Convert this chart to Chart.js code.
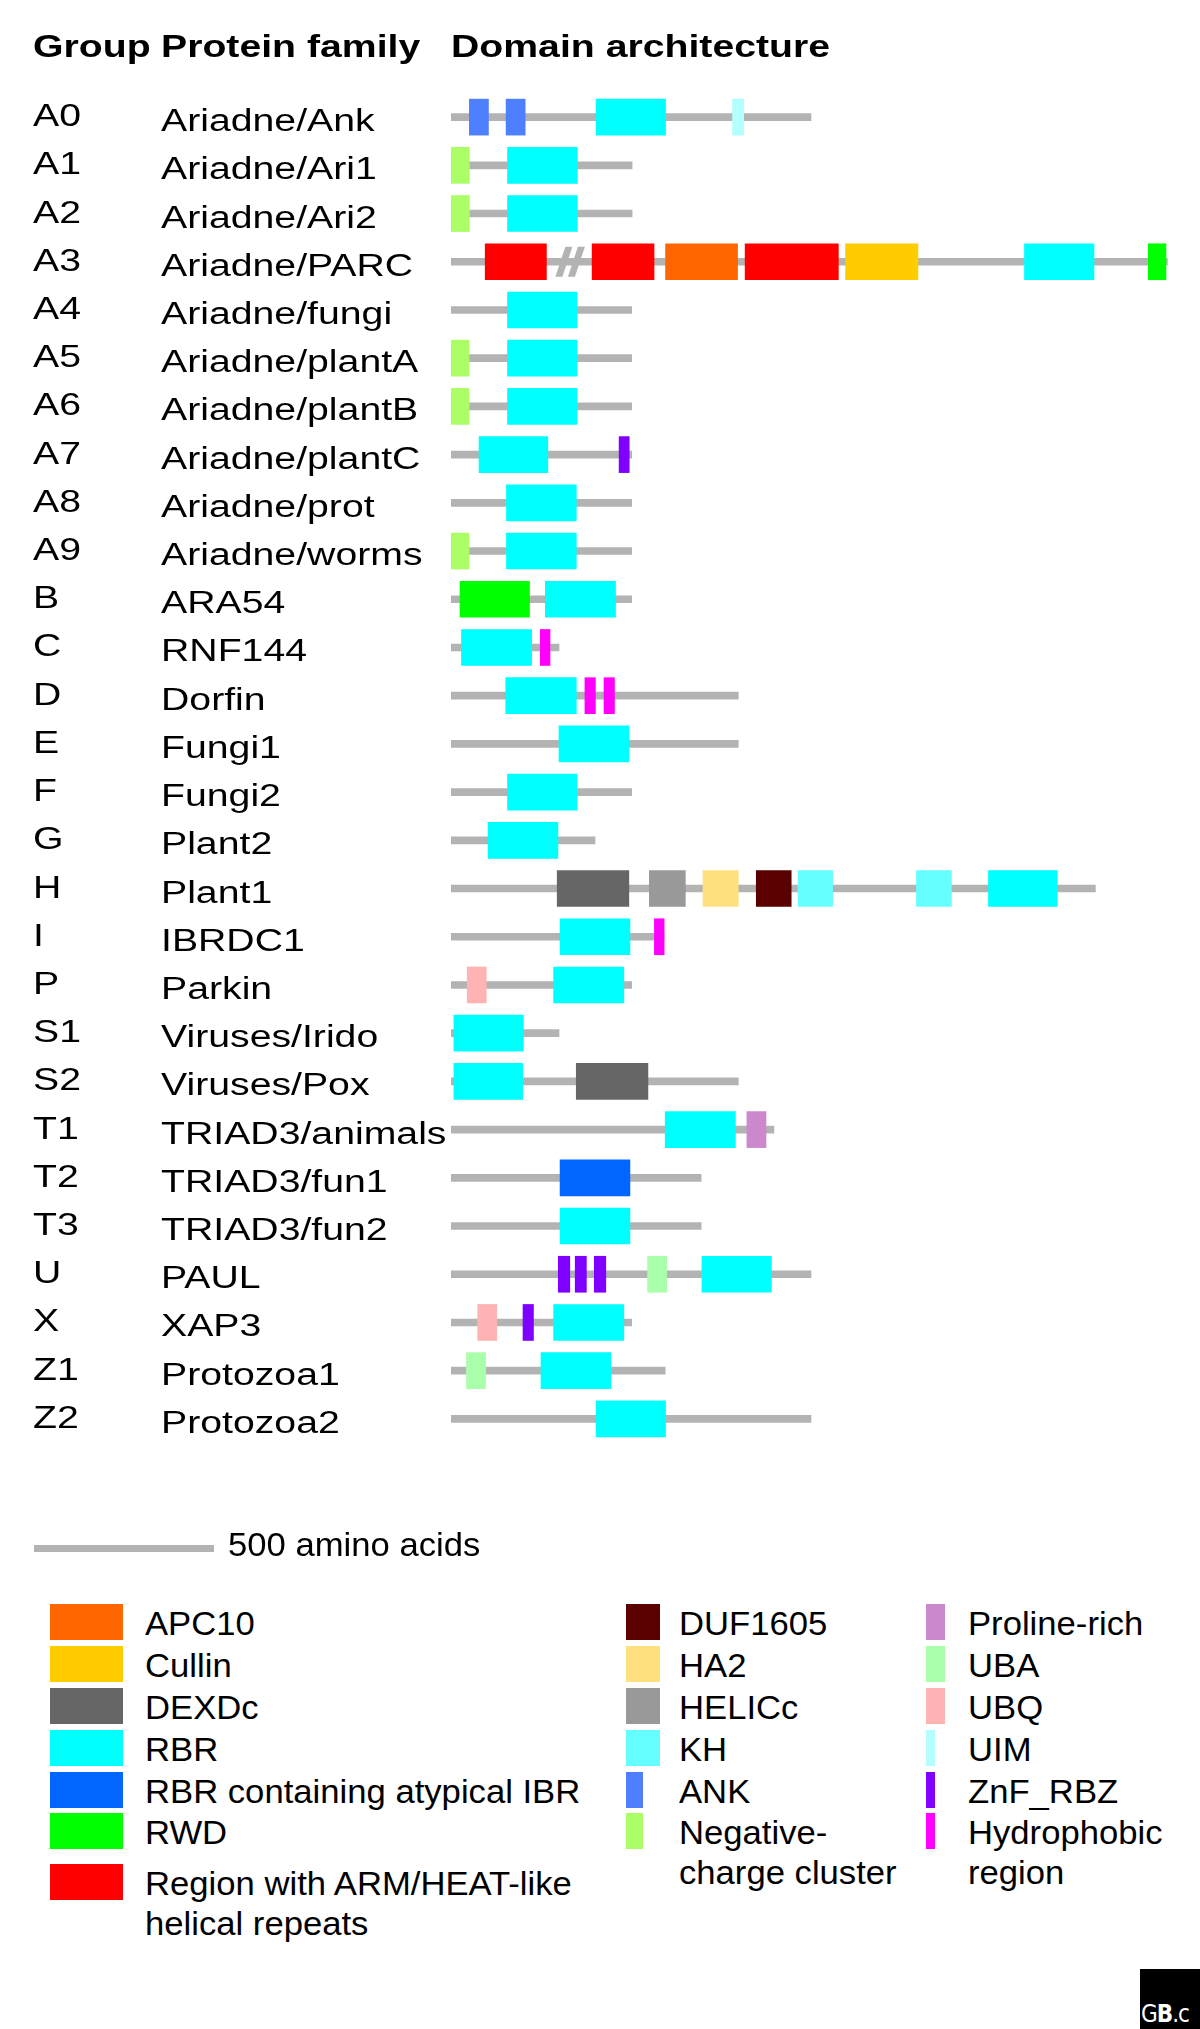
<!DOCTYPE html>
<html>
<head>
<meta charset="utf-8">
<script src="https://cdn.jsdelivr.net/npm/chart.js@4.4.1/dist/chart.umd.min.js"></script>
<style>
  body { margin: 0; background: #fff; font-family: "Liberation Sans", Arial, sans-serif; }
  #wrap { position: relative; width: 1200px; height: 2029px; overflow: hidden; }
  #domains { position: absolute; left: 0; top: 0; }
  .sw { position: absolute; height: 36px; }
  .lt { position: absolute; font-size: 33px; line-height: 40px; white-space: nowrap; color: #000;
        transform: scaleX(1.05); transform-origin: 0 0; }
  #gb { position: absolute; left: 1140px; top: 1969px; width: 60px; height: 60px; background: #000;
        overflow: hidden; color: #fff; font: 24px "DejaVu Sans Condensed", "DejaVu Sans", sans-serif; }
  #gb span { position: absolute; left: 1px; top: 31px; white-space: nowrap; letter-spacing: -1px; }
  #gb b { font-weight: bold; }
</style>
</head>
<body>
<div id="wrap">
  <canvas id="domains" width="1200" height="1580"></canvas>
  <div id="legend"></div>
  <div id="gb"><span>G<b>B</b>.c</span></div>
</div>
<script>
// rows
const groups = ['A0','A1','A2','A3','A4','A5','A6','A7','A8','A9','B','C','D','E','F','G','H','I','P','S1','S2','T1','T2','T3','U','X','Z1','Z2'];
const families = ['Ariadne/Ank','Ariadne/Ari1','Ariadne/Ari2','Ariadne/PARC','Ariadne/fungi','Ariadne/plantA','Ariadne/plantB',
  'Ariadne/plantC','Ariadne/prot','Ariadne/worms','ARA54','RNF144','Dorfin','Fungi1','Fungi2','Plant2','Plant1','IBRDC1',
  'Parkin','Viruses/Irido','Viruses/Pox','TRIAD3/animals','TRIAD3/fun1','TRIAD3/fun2','PAUL','XAP3','Protozoa1','Protozoa2'];
// protein length in amino acids
const lengths = [1000, 503, 503, 1990, 502, 502, 502, 502, 502, 502, 502, 300, 798, 798, 502, 400, 1790, 592,
  502, 300, 798, 897, 695, 695, 1000, 502, 595, 1000];

// domain types and colours
const domainTypes = ['APC10','Cullin','DEXDc','RBR','RBR containing atypical IBR','RWD','ARM/HEAT',
  'DUF1605','HA2','HELICc','KH','ANK','Negative-charge cluster',
  'Proline-rich','UBA','UBQ','UIM','ZnF_RBZ','Hydrophobic region'];
const domainColors = ['#ff6600','#ffcc00','#666666','#00ffff','#0066ff','#00ff00','#ff0000',
  '#5a0000','#ffe07f','#999999','#66ffff','#4d7fff','#aaff66',
  '#cc88cc','#aaffaa','#ffb3b3','#b3ffff','#7f00ff','#ff00ff'];
const legendLabels = ['APC10','Cullin','DEXDc','RBR','RBR containing atypical IBR','RWD','Region with ARM/HEAT-like\nhelical repeats',
  'DUF1605','HA2','HELICc','KH','ANK','Negative-\ncharge cluster',
  'Proline-rich','UBA','UBQ','UIM','ZnF_RBZ','Hydrophobic\nregion'];

// [group, domain type, start aa, end aa]
const domains = [
  ['A0','ANK',51,104], ['A0','ANK',153,206], ['A0','RBR',403,596], ['A0','UIM',782,813],
  ['A1','Negative-charge cluster',0,51], ['A1','RBR',157,351],
  ['A2','Negative-charge cluster',0,51], ['A2','RBR',157,351],
  ['A3','ARM/HEAT',95,265], ['A3','ARM/HEAT',392,564], ['A3','APC10',596,796], ['A3','ARM/HEAT',817,1076],
  ['A3','Cullin',1096,1297], ['A3','RBR',1593,1786], ['A3','RWD',1937,1986],
  ['A4','RBR',157,350],
  ['A5','Negative-charge cluster',0,50], ['A5','RBR',157,350],
  ['A6','Negative-charge cluster',0,50], ['A6','RBR',157,350],
  ['A7','RBR',78,269], ['A7','ZnF_RBZ',467,495],
  ['A8','RBR',154,348],
  ['A9','Negative-charge cluster',0,50], ['A9','RBR',154,348],
  ['B','RWD',25,218], ['B','RBR',262,457],
  ['C','RBR',29,224], ['C','Hydrophobic region',248,275],
  ['D','RBR',152,348], ['D','Hydrophobic region',372,401], ['D','Hydrophobic region',425,454],
  ['E','RBR',300,494],
  ['F','RBR',157,350],
  ['G','RBR',103,297],
  ['H','DEXDc',295,494], ['H','HELICc',551,651], ['H','HA2',700,798], ['H','DUF1605',848,945],
  ['H','KH',964,1060], ['H','KH',1293,1390], ['H','RBR',1493,1684],
  ['I','RBR',303,497], ['I','Hydrophobic region',565,592],
  ['P','UBQ',45,98], ['P','RBR',285,480],
  ['S1','RBR',8,201],
  ['S2','RBR',8,199], ['S2','DEXDc',348,547],
  ['T1','RBR',595,790], ['T1','Proline-rich',822,875],
  ['T2','RBR containing atypical IBR',303,497],
  ['T3','RBR',303,497],
  ['U','ZnF_RBZ',298,330], ['U','ZnF_RBZ',345,376], ['U','ZnF_RBZ',398,430], ['U','UBA',546,599], ['U','RBR',697,890],
  ['X','UBQ',74,127], ['X','ZnF_RBZ',200,229], ['X','RBR',285,480],
  ['Z1','UBA',43,96], ['Z1','RBR',250,444],
  ['Z2','RBR',403,596]
];
// sequence breaks drawn as //
const breaks = [['A3',290,372]];
const scaleBarAA = 500;

// legend layout
const legendCols = [[0,1,2,3,4,5,6],[7,8,9,10,11,12],[13,14,15,16,17,18]];
const legendTops = [1604,1646,1688,1730,1772,1813,1864];
const swatchW = [73,73,73,73,73,73,73, 34,34,34,34,17,17, 19,19,19,9,9,9];
const colX = [[50,145],[626,679],[926,968]];

const GREY = '#b3b3b3';

// one dataset per (type, occurrence within a row), so each dataset has at most one bar per row
const datasets = [];
const layerCount = {};
domains.forEach(([g, type, s, e]) => {
  const key = g + '|' + type;
  const layer = layerCount[key] = (layerCount[key] || 0);
  layerCount[key]++;
  const name = type + '#' + layer;
  let ds = datasets.find(d => d.label === name);
  if (!ds) {
    ds = {
      label: name,
      data: [],
      backgroundColor: domainColors[domainTypes.indexOf(type)],
      barThickness: 36,
      grouped: false,
      borderWidth: 0,
      borderSkipped: false
    };
    datasets.push(ds);
  }
  ds.data.push({ y: g, x: [s, e] });
});
// backbone last so it is drawn underneath
datasets.push({
  label: 'backbone',
  data: lengths.map((l, i) => ({ y: groups[i], x: [0, l] })),
  backgroundColor: GREY,
  barThickness: 7,
  grouped: false,
  borderWidth: 0,
  borderSkipped: false
});

function stretchText(ctx, text, x, y, sx) {
  ctx.save();
  ctx.translate(x, y);
  ctx.scale(sx, 1);
  ctx.fillText(text, 0, 0);
  ctx.restore();
}

const labelPlugin = {
  id: 'rowLabels',
  afterDatasetsDraw(chart) {
    const { ctx, scales: { x, y } } = chart;
    ctx.save();
    // sequence break: two slanted strokes
    breaks.forEach(([g, s, e]) => {
      const yc = y.getPixelForValue(groups.indexOf(g));
      const x1 = x.getPixelForValue(s), x2 = x.getPixelForValue(e);
      const w = (x2 - x1) / 2;
      ctx.fillStyle = GREY;
      [x1, x1 + w * 0.85].forEach(xs => {
        ctx.beginPath();
        ctx.moveTo(xs, yc + 15);
        ctx.lineTo(xs + 7, yc + 15);
        ctx.lineTo(xs + w * 1.15, yc - 15);
        ctx.lineTo(xs + w * 1.15 - 7, yc - 15);
        ctx.closePath();
        ctx.fill();
      });
    });

    ctx.fillStyle = '#000';
    ctx.textBaseline = 'alphabetic';
    // header
    ctx.font = 'bold 32px "Liberation Sans", Arial, sans-serif';
    stretchText(ctx, 'Group', 33, 57, 1.225);
    stretchText(ctx, 'Protein family', 161, 57, 1.225);
    stretchText(ctx, 'Domain architecture', x.left, 57, 1.225);

    // row labels
    ctx.font = '31px "Liberation Sans", Arial, sans-serif';
    groups.forEach((g, i) => {
      const yc = y.getPixelForValue(i);
      stretchText(ctx, g, 33, yc + 9, 1.265);
      stretchText(ctx, families[i], 161, yc + 14, 1.265);
    });

    // scale bar
    const barW = x.getPixelForValue(scaleBarAA) - x.getPixelForValue(0);
    ctx.fillStyle = GREY;
    ctx.fillRect(34, 1545, barW, 7);
    ctx.fillStyle = '#000';
    ctx.font = '33px "Liberation Sans", Arial, sans-serif';
    stretchText(ctx, scaleBarAA + ' amino acids', 228, 1556, 1.05);
    ctx.restore();
  }
};

new Chart(document.getElementById('domains'), {
  type: 'bar',
  data: { labels: groups, datasets: datasets },
  options: {
    indexAxis: 'y',
    responsive: false,
    animation: false,
    layout: { padding: { left: 451, right: 29, top: 93, bottom: 137 } },
    scales: {
      x: { type: 'linear', min: 0, max: 2000, display: false },
      y: { type: 'category', display: false, offset: true }
    },
    plugins: { legend: { display: false }, tooltip: { enabled: false } }
  },
  plugins: [labelPlugin]
});

// legend (HTML)
const legend = document.getElementById('legend');
legendCols.forEach((col, c) => {
  col.forEach((t, r) => {
    const sw = document.createElement('div');
    sw.className = 'sw';
    sw.style.left = colX[c][0] + 'px';
    sw.style.top = legendTops[r] + 'px';
    sw.style.width = swatchW[t] + 'px';
    sw.style.background = domainColors[t];
    legend.appendChild(sw);
    legendLabels[t].split('\n').forEach((line, k) => {
      const lt = document.createElement('div');
      lt.className = 'lt';
      lt.style.left = colX[c][1] + 'px';
      lt.style.top = (legendTops[r] + k * 40) + 'px';
      lt.textContent = line;
      legend.appendChild(lt);
    });
  });
});
</script>
</body>
</html>
